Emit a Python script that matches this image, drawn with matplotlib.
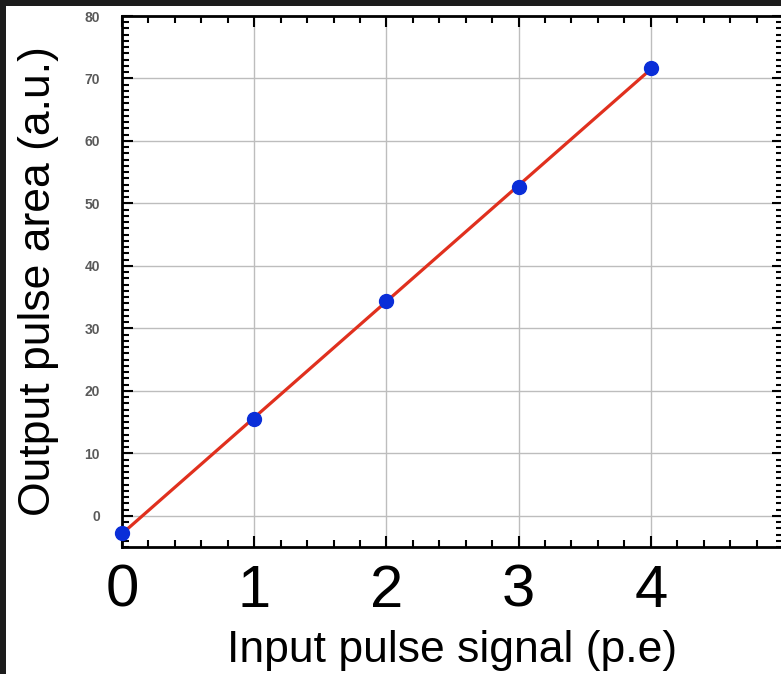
import numpy as np
import matplotlib
matplotlib.use("Agg")
import matplotlib.pyplot as plt
from matplotlib.patches import Rectangle
from matplotlib.ticker import MultipleLocator

# data
signal_pe = [0, 1, 2, 3, 4]
pulse_area = [-2.7, 15.5, 34.4, 52.6, 71.7]
x_ticks = [0, 1, 2, 3, 4]
y_ticks = [0, 10, 20, 30, 40, 50, 60, 70, 80]

plt.rcParams['font.family'] = ['Liberation Sans', 'DejaVu Sans']

fig = plt.figure(figsize=(7.81, 6.74), dpi=100, facecolor='#1c1c1c')
# white card on the dark frame
fig.patches.append(Rectangle((6 / 781, 0), 1, 1 - 6 / 674, transform=fig.transFigure,
                             facecolor='white', edgecolor='none', zorder=-10))

ax = fig.add_axes([122 / 781, 127 / 674, 661 / 781, 531 / 674])
ax.set_facecolor('white')

# linear fit through the points
coef = np.polyfit(signal_pe, pulse_area, 1)
xs = np.array([signal_pe[0], signal_pe[-1]])
ax.plot(xs, np.polyval(coef, xs), color='#e0301e', lw=2.3, zorder=3, clip_on=False)
ax.plot(signal_pe, pulse_area, 'o', color='#0a2ed8', ms=10, zorder=4, clip_on=False)

ax.set_xlim(0, 5)
ax.set_ylim(-5, 80)
ax.set_xticks(x_ticks)
ax.set_yticks(y_ticks)
ax.xaxis.set_minor_locator(MultipleLocator(0.2))
ax.yaxis.set_minor_locator(MultipleLocator(1))
ax.grid(True, which='major', color='#bdbdbd', lw=1.0)
ax.set_axisbelow(True)

ax.tick_params(which='both', direction='in', top=True, right=True, color='black')
ax.tick_params(which='major', length=8, width=1.5)
ax.tick_params(which='minor', length=5, width=1.5)
ax.tick_params(axis='x', labelsize=43, pad=12)
ax.tick_params(axis='y', labelsize=10, pad=16, labelcolor='#5a5a5a')
for lab in ax.get_yticklabels():
    lab.set_family(['Liberation Sans Narrow', 'Liberation Sans'])
    lab.set_fontweight('bold')

for sp in ax.spines.values():
    sp.set_linewidth(2)
    sp.set_color('black')
# right edge of the frame is cut off in the original, only the ticks show
ax.spines['right'].set_visible(False)

ax.set_xlabel('Input pulse signal (p.e)', fontsize=32, labelpad=8)
ax.set_ylabel('Output pulse area (a.u.)', fontsize=32, labelpad=18)

fig.savefig('out.png', dpi=100, facecolor=fig.get_facecolor())
